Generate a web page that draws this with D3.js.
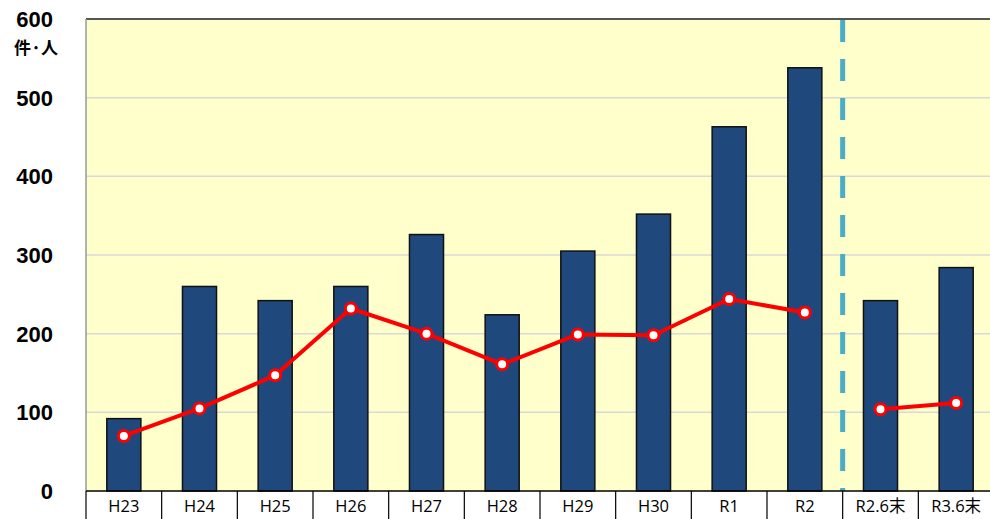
<!DOCTYPE html>
<html><head><meta charset="utf-8">
<script src="https://cdn.jsdelivr.net/npm/d3@7"></script>
<style>body{margin:0;background:#fff;} svg{display:block;}</style>
</head><body>
<svg id="c" width="990" height="519"></svg>
<script>
const categories = ["H23","H24","H25","H26","H27","H28","H29","H30","R1","R2","R2.6末","R3.6末"];
const barValues = [92,260,242,260,326,224,305,352,463,538,242,284];
const lineValues = [70,105,147,232,200,161,199,198,244,227,104,112];
const lineSegments = [[0,9],[10,11]];
const yTicks = [0,100,200,300,400,500,600];
const yUnit = "件·人";
const dividerAfter = "R2";

const svg = d3.select("#c");
const L = 86, R = 994, T = 19, B = 491;
const x = d3.scaleBand().domain(categories).range([L, R]).paddingInner(0).paddingOuter(0);
const y = d3.scaleLinear().domain([0, 600]).range([B, T]);

svg.append("rect").attr("x", L).attr("y", T).attr("width", R - L).attr("height", B - T).attr("fill", "#FFFFCC");

svg.append("g").selectAll("line").data(yTicks.filter(d => d > 0 && d < 600)).join("line")
  .attr("x1", L).attr("x2", R).attr("y1", d => y(d)).attr("y2", d => y(d))
  .attr("stroke", "#D9D9D9").attr("stroke-width", 1.5);

// frame
svg.append("line").attr("x1", L).attr("x2", R).attr("y1", T).attr("y2", T).attr("stroke", "#555").attr("stroke-width", 2);
svg.append("line").attr("x1", L).attr("x2", L).attr("y1", T).attr("y2", B).attr("stroke", "#999").attr("stroke-width", 1.5);

const bw = x.bandwidth() * 0.45;
svg.append("g").selectAll("rect").data(categories).join("rect")
  .attr("x", d => x(d) + (x.bandwidth() - bw) / 2)
  .attr("y", (d, i) => y(barValues[i]))
  .attr("width", bw)
  .attr("height", (d, i) => B - y(barValues[i]))
  .attr("fill", "#1F497D").attr("stroke", "#111").attr("stroke-width", 1.5);

// divider
const dx = x(dividerAfter) + x.bandwidth();
svg.append("line").attr("x1", dx).attr("x2", dx).attr("y1", T + 1).attr("y2", B)
  .attr("stroke", "#4BACC6").attr("stroke-width", 5).attr("stroke-dasharray", "22,17");

// line
const line = d3.line().x(d => x(categories[d]) + x.bandwidth() / 2).y(d => y(lineValues[d]));
lineSegments.forEach(([a, b]) => {
  svg.append("path").datum(d3.range(a, b + 1)).attr("d", line)
    .attr("fill", "none").attr("stroke", "#FF0000").attr("stroke-width", 4).attr("stroke-linejoin", "round");
});
svg.append("g").selectAll("circle").data(categories).join("circle")
  .attr("cx", d => x(d) + x.bandwidth() / 2)
  .attr("cy", (d, i) => y(lineValues[i]))
  .attr("r", 5.5).attr("fill", "#fff").attr("stroke", "#FF0000").attr("stroke-width", 3);

// x-axis table
svg.append("line").attr("x1", L).attr("x2", R).attr("y1", B).attr("y2", B).attr("stroke", "#000").attr("stroke-width", 1.5);
svg.append("g").selectAll("line").data(categories.concat(["__end"])).join("line")
  .attr("x1", (d, i) => L + i * x.bandwidth()).attr("x2", (d, i) => L + i * x.bandwidth())
  .attr("y1", B).attr("y2", 519).attr("stroke", "#000").attr("stroke-width", 1.2);
svg.append("g").selectAll("text").data(categories).join("text")
  .attr("x", d => x(d) + x.bandwidth() / 2).attr("y", 512)
  .attr("text-anchor", "middle").attr("font-family", "'Open Sans', 'Noto Sans CJK JP', sans-serif")
  .attr("font-size", 16.5).attr("fill", "#000").text(d => d);

// y labels
svg.append("g").selectAll("text").data(yTicks).join("text")
  .attr("x", 53).attr("y", d => y(d) + 8)
  .attr("text-anchor", "end").attr("font-family", "'Liberation Sans', Arial, sans-serif")
  .attr("font-weight", "bold").attr("font-size", 22).attr("fill", "#000").text(d => d);
svg.append("text").attr("x", 36).attr("y", 54).attr("text-anchor", "middle")
  .attr("font-family", "'Noto Sans CJK JP', sans-serif").attr("font-weight", "bold")
  .attr("font-size", 17).attr("fill", "#000").text(yUnit);
</script>
</body></html>
